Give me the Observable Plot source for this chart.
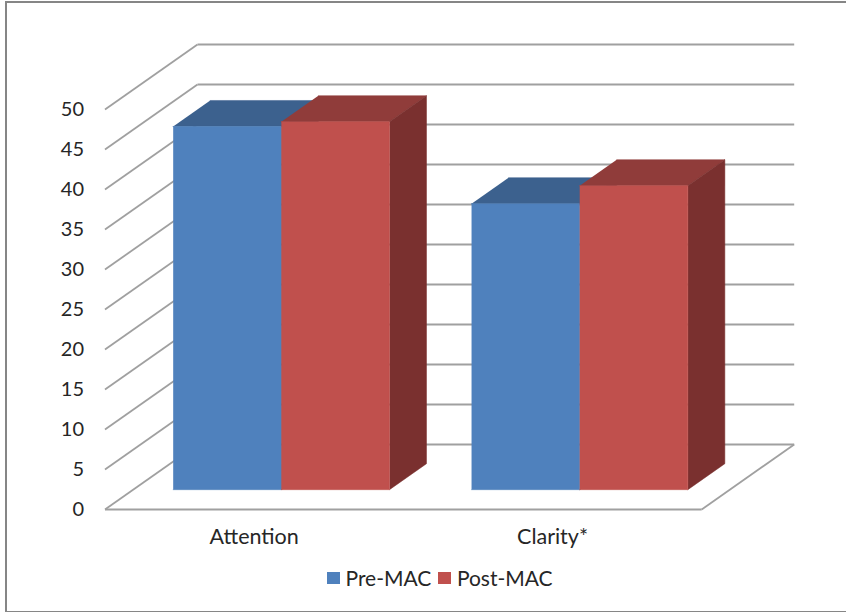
<!DOCTYPE html>
<html>
<head>
<meta charset="utf-8">
<script src="https://cdn.jsdelivr.net/npm/d3@7"></script>
<script src="https://cdn.jsdelivr.net/npm/@observablehq/plot@0.6"></script>
<style>
  html, body { margin: 0; padding: 0; background: #fff; overflow: hidden; }
  #page { position: relative; width: 846px; height: 612px; font-family: Lato, sans-serif; color: #262626; }
  #frame { position: absolute; left: 5px; top: 1px; width: 841px; height: 608px;
           border: solid #868686; border-width: 2px 0 2px 2px; box-sizing: content-box; pointer-events: none; }
  svg { display: block; }
  #legend { position: absolute; top: 564px; left: 327px; display: flex; align-items: center;
            font-size: 21px; line-height: 28px; white-space: nowrap; }
  #legend i { display: inline-block; width: 12.5px; height: 12.5px; margin-right: 6px; }
  #legend span { margin-right: 7px; display: flex; align-items: center; }
</style>
</head>
<body>
<div id="page">
  <div id="chart"></div>
  <div id="legend"></div>
  <div id="frame"></div>
</div>
<script>
// Chart values
const categories = ["Attention", "Clarity*"];
const seriesNames = ["Pre-MAC", "Post-MAC"];
const preMAC = [45.4, 35.75];
const postMAC = [46, 38];
const valueTicks = [0, 5, 10, 15, 20, 25, 30, 35, 40, 45, 50];

// Face shades per series: front, top, side
const shades = [
  {front: "#4f81bd", top: "#3c618e", side: "#2f4d72"},
  {front: "#c0504d", top: "#903c3a", side: "#7a302f"}
];

// Oblique projection: x is in category widths, y in value units, depth runs 0..1
const depthX = 0.31;
const depthY = 8.125;
const project = (u, v, d) => ({x: u + d * depthX, y: v + d * depthY});

// Bar placement inside each category band
const barStart = 0.134;
const barWidth = 0.3625;
const barDepth = [0.305, 0.705];

const faces = [];
function addFace(id, color, corners) {
  for (const [u, v, d] of corners) faces.push({id, color, ...project(u, v, d)});
}
function addBar(id, u0, u1, value, shade) {
  const [d0, d1] = barDepth;
  addFace(id + "-top", shade.top, [[u0, value, d0], [u1, value, d0], [u1, value, d1], [u0, value, d1]]);
  addFace(id + "-side", shade.side, [[u1, 0, d0], [u1, 0, d1], [u1, value, d1], [u1, value, d0]]);
  addFace(id + "-front", shade.front, [[u0, 0, d0], [u1, 0, d0], [u1, value, d0], [u0, value, d0]]);
}
categories.forEach((c, i) => {
  const u0 = i + barStart, u1 = u0 + barWidth, u2 = u1 + barWidth;
  addBar(c + "-pre", u0, u1, preMAC[i], shades[0]);
  addBar(c + "-post", u1, u2, postMAC[i], shades[1]);
});

const wallStroke = {stroke: "#a0a0a0", strokeWidth: 1.8};
const uMax = categories.length;

const chart = Plot.plot({
  width: 846,
  height: 560,
  marginLeft: 104.5,
  marginRight: 52.3,
  marginTop: 44,
  marginBottom: 51,
  style: {fontFamily: "Lato, sans-serif", color: "#262626", background: "transparent"},
  x: {domain: [0, uMax + depthX], axis: null},
  y: {domain: [0, 50 + depthY], axis: null},
  marks: [
    // Back wall gridlines
    Plot.link(valueTicks, {
      x1: depthX, x2: uMax + depthX,
      y1: v => v + depthY, y2: v => v + depthY, ...wallStroke
    }),
    // Side wall gridlines
    Plot.link(valueTicks, {
      x1: 0, x2: depthX,
      y1: v => v, y2: v => v + depthY, ...wallStroke
    }),
    // Floor front and right edges
    Plot.link([0], {x1: 0, x2: uMax, y1: 0, y2: 0, ...wallStroke}),
    Plot.link([0], {x1: uMax, x2: uMax + depthX, y1: 0, y2: depthY, ...wallStroke}),
    // Bar faces, painted back to front
    Plot.line(faces, {x: "x", y: "y", z: "id", fill: "color", stroke: "color", strokeWidth: 0.5}),
    Plot.axisY({ticks: valueTicks, tickSize: 0, tickPadding: 21, label: null, fontSize: 20}),
    Plot.axisX({
      ticks: categories.map((c, i) => i + 0.5),
      tickFormat: u => categories[Math.floor(u)],
      tickSize: 0, tickPadding: 19, label: null, fontSize: 21.5
    })
  ]
});
document.getElementById("chart").append(chart);

// Legend below the plot
const legend = document.getElementById("legend");
seriesNames.forEach((name, i) => {
  const item = document.createElement("span");
  const swatch = document.createElement("i");
  swatch.style.background = shades[i].front;
  item.append(swatch, name);
  legend.append(item);
});
</script>
</body>
</html>
